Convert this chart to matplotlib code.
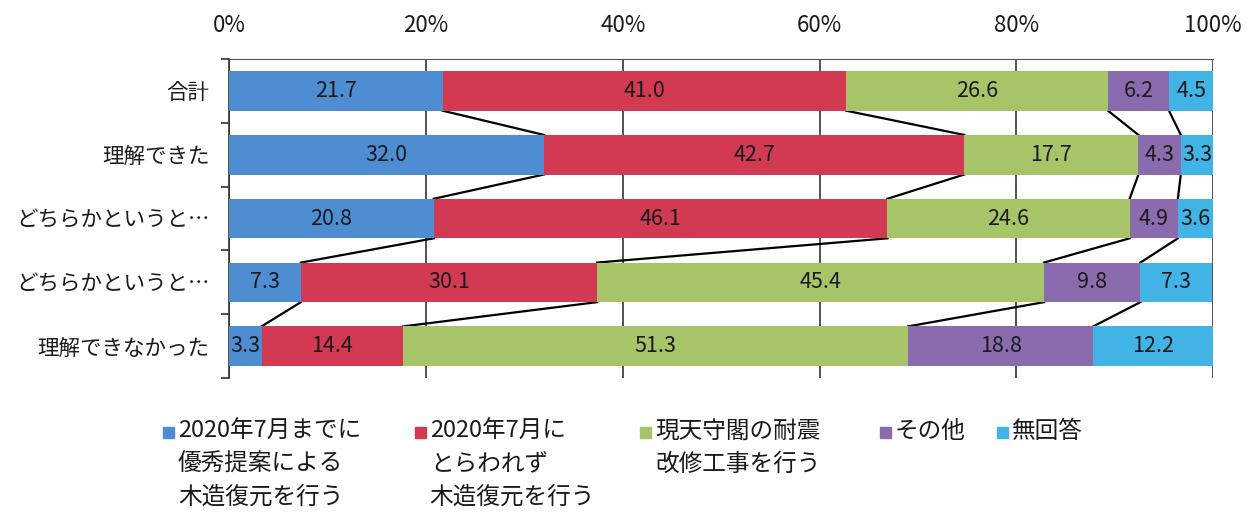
#Stacked 100% bar chart with connector lines between bars

#import modules
import numpy as np
import matplotlib
matplotlib.use("Agg")
import matplotlib.pyplot as plt
from matplotlib.patches import Rectangle

plt.rcParams['font.family'] = ['Noto Sans CJK JP', 'DejaVu Sans']

#Data
categories = ["合計", "理解できた", "どちらかというと…", "どちらかというと…", "理解できなかった"]
series_names = ["2020年7月までに\n優秀提案による\n木造復元を行う",
                "2020年7月に\nとらわれず\n木造復元を行う",
                "現天守閣の耐震\n改修工事を行う",
                "その他",
                "無回答"]
early_wood = [21.7, 32.0, 20.8, 7.3, 3.3]
free_wood = [41.0, 42.7, 46.1, 30.1, 14.4]
seismic = [26.6, 17.7, 24.6, 45.4, 51.3]
other = [6.2, 4.3, 4.9, 9.8, 18.8]
no_answer = [4.5, 3.3, 3.6, 7.3, 12.2]
x_ticks = [0, 20, 40, 60, 80, 100]

colors = ["#4F8DD3", "#D13A52", "#A8C468", "#8A6CAE", "#41B3E4"]
txt = "#1a1a1a"

data = np.array([early_wood, free_wood, seismic, other, no_answer])

fig = plt.figure(figsize=(12.53, 5.13), dpi=100)
ax = fig.add_axes([0.1828, 0.263, 0.7855, 0.622])

y = np.arange(len(categories))
bar_h = 0.62
left = np.zeros(len(categories))
for i in range(len(data)):
    ax.barh(y, data[i], left=left, height=bar_h, color=colors[i], zorder=3)
    for j in range(len(categories)):
        ax.text(left[j] + data[i][j] / 2, y[j], f"{data[i][j]:.1f}",
                ha="center", va="center", fontsize=15.5, color=txt, zorder=4)
    left = left + data[i]

#Connector lines between neighbouring bars
cum = np.cumsum(data, axis=0)
for k in range(len(data) - 1):
    for j in range(len(categories) - 1):
        ax.plot([cum[k][j], cum[k][j + 1]], [y[j] + bar_h / 2, y[j + 1] - bar_h / 2],
                color="black", lw=1.6, zorder=2)

ax.set_xlim(0, 100)
ax.set_ylim(len(categories) - 0.5, -0.5)
ax.xaxis.tick_top()
ax.set_xticks(x_ticks)
ax.set_xticklabels([f"{t}%" for t in x_ticks], fontsize=16, color=txt)
ax.tick_params(axis="x", length=0, pad=16)
ax.set_yticks(y)
ax.set_yticklabels(categories, fontsize=15.5, color=txt)
ax.set_yticks(np.arange(len(categories) + 1) - 0.5, minor=True)
ax.tick_params(axis="y", which="major", length=0, pad=14)
ax.tick_params(axis="y", which="minor", length=6, width=1.2, color="#333333")
ax.grid(axis="x", color="#333333", lw=1.2, zorder=1)
for s in ["right", "bottom"]:
    ax.spines[s].set_visible(False)
ax.spines["top"].set_color("#555555")
ax.spines["left"].set_color("#333333")
ax.spines["left"].set_linewidth(1.2)

#Legend drawn by hand so the marker sits on the first line
legend_x = [0.130, 0.331, 0.511, 0.702, 0.796]
for i in range(len(series_names)):
    fig.patches.append(Rectangle((legend_x[i], 0.146), 0.0088, 0.021, color=colors[i],
                                 transform=fig.transFigure, figure=fig))
    fig.text(legend_x[i] + 0.012, 0.181, series_names[i], ha="left", va="top",
             fontsize=17, color=txt, linespacing=1.55)

fig.savefig("out.png", dpi=100)
